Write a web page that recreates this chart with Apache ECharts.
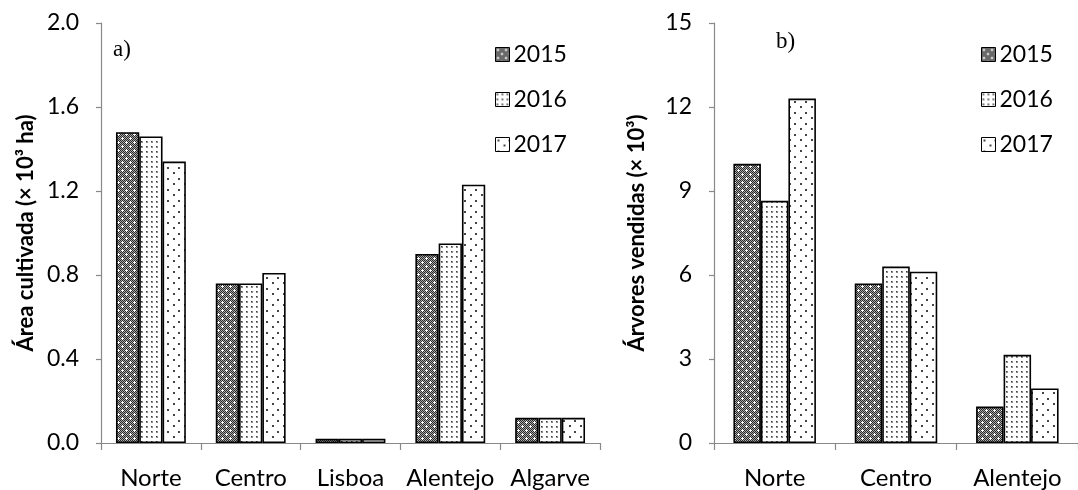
<!DOCTYPE html>
<html>
<head>
<meta charset="utf-8">
<script src="https://cdn.jsdelivr.net/npm/echarts@6/dist/echarts.min.js"></script>
<style>
  html, body { margin: 0; padding: 0; background: #fff; }
  #chart { width: 1078px; height: 490px; }
</style>
</head>
<body>
<div id="chart"></div>
<script>
// Panel a) cultivated area (x 10^3 ha) by region
const regionsArea = ['Norte', 'Centro', 'Lisboa', 'Alentejo', 'Algarve'];
const area2015 = [1.48, 0.76, 0.02, 0.90, 0.12];
const area2016 = [1.46, 0.76, 0.02, 0.95, 0.12];
const area2017 = [1.34, 0.81, 0.02, 1.23, 0.12];

// Panel b) trees sold (x 10^3) by region
const regionsTrees = ['Norte', 'Centro', 'Alentejo'];
const trees2015 = [9.97, 5.70, 1.30];
const trees2016 = [8.65, 6.30, 3.15];
const trees2017 = [12.30, 6.12, 1.95];

const years = ['2015', '2016', '2017'];

// Monochrome fill patterns for each year
function makeTile(size, draw) {
  const c = document.createElement('canvas');
  c.width = size; c.height = size;
  const g = c.getContext('2d');
  draw(g);
  return c;
}
const tile2015 = makeTile(8, g => {
  for (let y = 0; y < 8; y++) {
    for (let x = 0; x < 8; x++) {
      g.fillStyle = (x + y) % 2 === 0 ? '#2a2a2a' : '#a8a8a8';
      g.fillRect(x, y, 1, 1);
    }
  }
  g.fillStyle = '#ffffff';
  g.fillRect(2, 1, 1, 3); g.fillRect(1, 2, 3, 1);
  g.fillRect(6, 5, 1, 3); g.fillRect(5, 6, 3, 1);
});
const tile2016 = makeTile(5, g => {
  g.fillStyle = '#ffffff'; g.fillRect(0, 0, 5, 5);
  g.fillStyle = '#8c8c8c'; g.fillRect(1, 1, 2, 2);
  g.fillStyle = '#3c3c3c'; g.fillRect(1, 1, 1, 1);
});
const tile2017 = makeTile(11, g => {
  g.fillStyle = '#ffffff'; g.fillRect(0, 0, 11, 11);
  g.fillStyle = '#444';
  g.fillRect(2, 2, 2, 2);
  g.fillRect(8, 7, 2, 2);
});
const fills = [tile2015, tile2016, tile2017].map(t => ({ image: t, repeat: 'repeat' }));

const FONT = 'Lato';
const axisGray = '#898989';

function barSeries(name, data, idx, fill, gap) {
  return {
    name: name,
    type: 'bar',
    xAxisIndex: idx,
    yAxisIndex: idx,
    data: data,
    barGap: '0%',
    barCategoryGap: gap,
    itemStyle: { color: fill, borderColor: '#000', borderWidth: 1.6 },
    emphasis: { disabled: true }
  };
}

function legendFor(left) {
  return {
    left: left,
    top: 38,
    orient: 'vertical',
    data: years,
    icon: 'rect',
    itemWidth: 14,
    itemHeight: 14,
    itemGap: 22,
    selectedMode: false,
    itemStyle: { borderColor: '#000', borderWidth: 1 },
    textStyle: { fontFamily: FONT, fontSize: 23, color: '#000', padding: [0, 0, 0, -1] }
  };
}

const xAxisCommon = {
  type: 'category',
  axisLine: { lineStyle: { color: axisGray, width: 1.2 } },
  axisTick: { show: true, length: 7, lineStyle: { color: axisGray, width: 1.2 } },
  axisLabel: { fontFamily: FONT, fontSize: 24, color: '#000', margin: 23, interval: 0 }
};
const yAxisCommon = {
  type: 'value',
  min: 0,
  axisLine: { show: true, lineStyle: { color: axisGray, width: 1.2 } },
  axisTick: { show: true, length: 5, lineStyle: { color: axisGray, width: 1.2 } },
  splitLine: { show: false },
  nameLocation: 'middle',
  nameTextStyle: { fontFamily: FONT, fontSize: 22, fontWeight: 'bold', color: '#000' }
};

const option = {
  backgroundColor: '#ffffff',
  animation: false,
  grid: [
    { left: 101, right: 478, top: 23, bottom: 44 },
    { left: 714, right: -11, top: 23, bottom: 44 }
  ],
  legend: [legendFor(490), legendFor(976)],
  xAxis: [
    Object.assign({}, xAxisCommon, { gridIndex: 0, data: regionsArea }),
    Object.assign({}, xAxisCommon, { gridIndex: 1, data: regionsTrees })
  ],
  yAxis: [
    Object.assign({}, yAxisCommon, {
      gridIndex: 0, max: 2.0, interval: 0.4,
      name: 'Área cultivada (× 10³ ha)', nameGap: 64,
      axisLabel: { fontFamily: FONT, fontSize: 23, color: '#000', margin: 22,
        formatter: v => v.toFixed(1) }
    }),
    Object.assign({}, yAxisCommon, {
      gridIndex: 1, max: 15, interval: 3,
      name: 'Árvores vendidas (× 10³)', nameGap: 66,
      axisLabel: { fontFamily: FONT, fontSize: 23, color: '#000', margin: 22 }
    })
  ],
  graphic: [
    { type: 'text', left: 113, top: 38,
      style: { text: 'a)', font: '23px "Liberation Serif", "DejaVu Serif", serif', fill: '#000' } },
    { type: 'text', left: 776, top: 30,
      style: { text: 'b)', font: '23px "Liberation Serif", "DejaVu Serif", serif', fill: '#000' } }
  ],
  series: [
    barSeries(years[0], area2015, 0, fills[0], '30%'),
    barSeries(years[1], area2016, 0, fills[1], '30%'),
    barSeries(years[2], area2017, 0, fills[2], '30%'),
    barSeries(years[0], trees2015, 1, fills[0], '32%'),
    barSeries(years[1], trees2016, 1, fills[1], '32%'),
    barSeries(years[2], trees2017, 1, fills[2], '32%')
  ]
};

const chart = echarts.init(document.getElementById('chart'), null, { renderer: 'canvas' });
chart.setOption(option);
</script>
</body>
</html>
